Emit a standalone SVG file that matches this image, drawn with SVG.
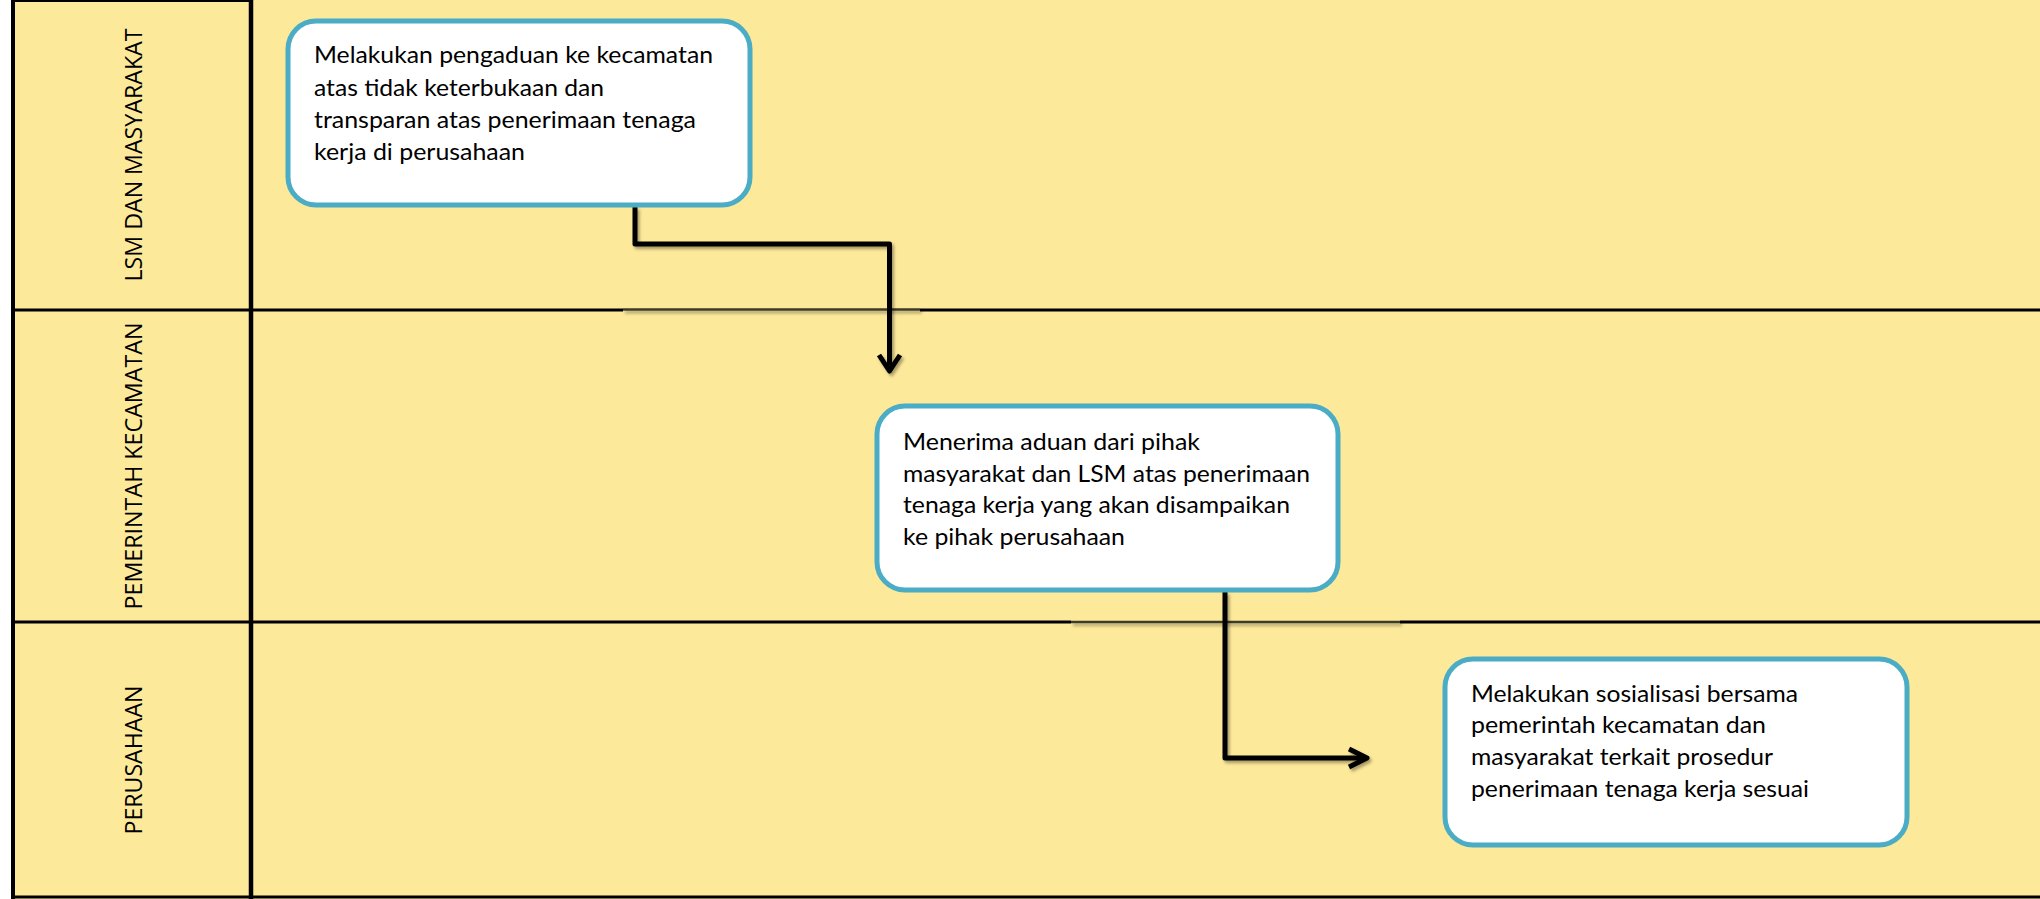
<svg xmlns="http://www.w3.org/2000/svg" width="2040" height="899" viewBox="0 0 2040 899">
<defs>
<style>
.lane{fill:#FDE99A}
.border{stroke:#000;fill:none}
.box{fill:#fff;stroke:#4BACC6;stroke-width:5}
.txt{font-family:Lato,"Noto Sans",sans-serif;font-size:23px;fill:#000}
.lbl{font-family:"Open Sans","Noto Sans",sans-serif;font-size:23.5px;fill:#000;text-anchor:middle}
.conn{stroke:#000;stroke-width:5;fill:none;stroke-linejoin:round;stroke-linecap:butt}
.seg{stroke:#3d3a2c;stroke-width:2.5;fill:none}
</style>
<filter id="sh" filterUnits="userSpaceOnUse" x="0" y="0" width="2040" height="899">
<feDropShadow dx="2" dy="2.5" stdDeviation="1.6" flood-color="#000" flood-opacity="0.35"/>
</filter>
</defs>
<rect x="0" y="0" width="2040" height="899" fill="#fff"/>
<g id="lanes">
<rect class="lane" x="11" y="0" width="2029" height="899"/>
<line class="border" x1="11" y1="1" x2="253" y2="1" stroke-width="2"/>
<line class="border" x1="13" y1="0" x2="13" y2="899" stroke-width="4"/>
<line class="border" x1="251" y1="0" x2="251" y2="899" stroke-width="4.5"/>
<line class="border" x1="11" y1="310" x2="623" y2="310" stroke-width="3"/>
<line class="border" x1="920" y1="310" x2="2040" y2="310" stroke-width="3"/>
<line class="border" x1="11" y1="622" x2="1071" y2="622" stroke-width="3"/>
<line class="border" x1="1400" y1="622" x2="2040" y2="622" stroke-width="3"/>
<line class="border" x1="11" y1="897" x2="2040" y2="897" stroke-width="3"/>
<line class="seg" x1="623" y1="309.5" x2="920" y2="309.5" filter="url(#sh)"/>
<line class="seg" x1="1071" y1="622" x2="1400" y2="622" filter="url(#sh)"/>
<text class="lbl" transform="translate(142,155) rotate(-90)" textLength="253" lengthAdjust="spacingAndGlyphs">LSM DAN MASYARAKAT</text>
<text class="lbl" transform="translate(142,466) rotate(-90)" textLength="287" lengthAdjust="spacingAndGlyphs">PEMERINTAH KECAMATAN</text>
<text class="lbl" transform="translate(142,760) rotate(-90)" textLength="149" lengthAdjust="spacingAndGlyphs">PERUSAHAAN</text>
</g>
<g id="connectors">
<g filter="url(#sh)">
<path class="conn" d="M635,207 V244 H889.5 V371"/>
<polyline class="conn" points="879,355 889.5,371 900,355"/>
</g>
<g filter="url(#sh)">
<path class="conn" d="M1225,592 V758 H1367"/>
<polyline class="conn" points="1349,749 1367,758 1349,767"/>
</g>
</g>
<g id="node1">
<rect class="box" x="288" y="21" width="462" height="184" rx="28"/>
<text class="txt" x="314" y="63" textLength="399" lengthAdjust="spacingAndGlyphs">Melakukan pengaduan ke kecamatan</text>
<text class="txt" x="314" y="96" textLength="290" lengthAdjust="spacingAndGlyphs">atas tidak keterbukaan dan</text>
<text class="txt" x="314" y="128" textLength="382" lengthAdjust="spacingAndGlyphs">transparan atas penerimaan tenaga</text>
<text class="txt" x="314" y="160" textLength="211" lengthAdjust="spacingAndGlyphs">kerja di perusahaan</text>
</g>
<g id="node2">
<rect class="box" x="877" y="406" width="461" height="184" rx="28"/>
<text class="txt" x="903" y="450" textLength="297" lengthAdjust="spacingAndGlyphs">Menerima aduan dari pihak</text>
<text class="txt" x="903" y="482" textLength="407" lengthAdjust="spacingAndGlyphs">masyarakat dan LSM atas penerimaan</text>
<text class="txt" x="903" y="513" textLength="387" lengthAdjust="spacingAndGlyphs">tenaga kerja yang akan disampaikan</text>
<text class="txt" x="903" y="545" textLength="222" lengthAdjust="spacingAndGlyphs">ke pihak perusahaan</text>
</g>
<g id="node3">
<rect class="box" x="1445" y="659" width="462" height="186" rx="28"/>
<text class="txt" x="1471" y="702" textLength="327" lengthAdjust="spacingAndGlyphs">Melakukan sosialisasi bersama</text>
<text class="txt" x="1471" y="733" textLength="295" lengthAdjust="spacingAndGlyphs">pemerintah kecamatan dan</text>
<text class="txt" x="1471" y="765" textLength="302" lengthAdjust="spacingAndGlyphs">masyarakat terkait prosedur</text>
<text class="txt" x="1471" y="797" textLength="338" lengthAdjust="spacingAndGlyphs">penerimaan tenaga kerja sesuai</text>
</g>
</svg>
